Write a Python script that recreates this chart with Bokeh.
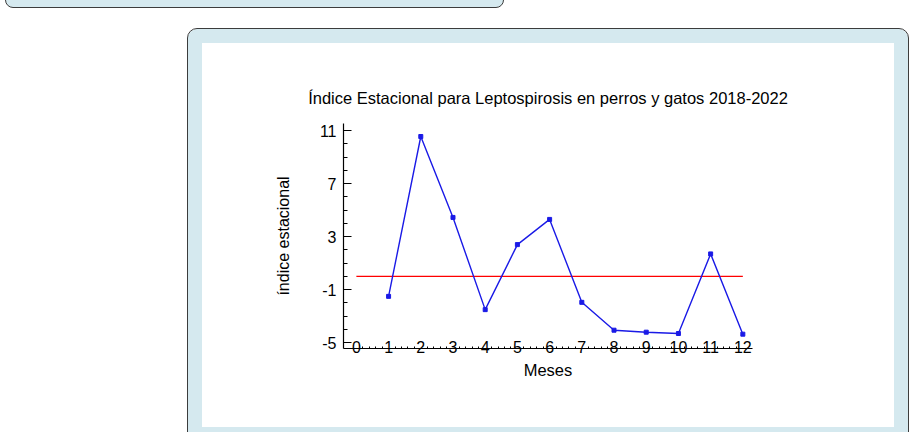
from bokeh.plotting import figure
from bokeh.models import Range1d, FixedTicker, LinearAxis, InlineStyleSheet, PrintfTickFormatter
from bokeh.embed import file_html
from bokeh.resources import INLINE

# ---- data ----
months = [1, 2, 3, 4, 5, 6, 7, 8, 9, 10, 11, 12]
index_values = [-1.5, 10.55, 4.45, -2.5, 2.4, 4.3, -1.95, -4.05, -4.2, -4.3, 1.7, -4.35]
baseline_x = [0, 12]
baseline_y = [0, 0]
x_ticks = [0, 1, 2, 3, 4, 5, 6, 7, 8, 9, 10, 11, 12]
y_ticks = [-5, -1, 3, 7, 11]
y_minor = [-5, -4, -3, -2, -1, 0, 1, 2, 3, 4, 5, 6, 7, 8, 9, 10, 11]
title_text = "Índice Estacional para Leptospirosis en perros y gatos 2018-2022"
x_label = "Meses"
y_label = "índice estacional"

FONT = "Liberation Sans"
LIGHT = "#d5e9ef"
EDGE = "#3c3c3c"

p = figure(width=916, height=432, output_backend="svg", toolbar_location=None,
           x_range=Range1d(-0.4, 12.3), y_range=Range1d(-5.43, 11.53),
           min_border_left=343, min_border_right=164, min_border_top=123,
           min_border_bottom=84, x_axis_type=None, y_axis_type=None)
p.outline_line_color = None
p.background_fill_color = None
p.border_fill_color = None
p.xgrid.visible = False
p.ygrid.visible = False

# decorative panels behind the chart (page background frames)
p.stylesheets = [InlineStyleSheet(css=f"""
:host {{ position: relative; z-index: 0; }}
:host::before {{
  content: ""; position: absolute; z-index: -1;
  left: 187px; top: 28px; width: 722px; height: 414px;
  box-sizing: border-box; border: 1.5px solid {EDGE}; border-radius: 10px;
  background: white; box-shadow: inset 0 0 0 14px {LIGHT};
}}
:host::after {{
  content: ""; position: absolute; z-index: -1;
  left: 5px; top: -30px; width: 499px; height: 38px;
  box-sizing: border-box; border: 1.5px solid {EDGE}; border-radius: 8px;
  background: {LIGHT};
}}
""")]

fmt = PrintfTickFormatter(format="%d")

# axes
xaxis = LinearAxis(ticker=FixedTicker(ticks=x_ticks,
                   minor_ticks=[i / 5 for i in range(0, 61) if i % 5]),
                   formatter=fmt)
xaxis.axis_label = x_label
xaxis.major_tick_in = 0
xaxis.major_tick_out = 0
xaxis.minor_tick_in = 2
xaxis.minor_tick_out = 0
xaxis.major_label_standoff = -8
xaxis.axis_label_standoff = 5
xaxis.major_label_text_font = FONT
xaxis.major_label_text_font_size = "16px"
xaxis.major_label_text_color = "black"
xaxis.axis_label_text_font = FONT
xaxis.axis_label_text_font_size = "16.5px"
xaxis.axis_label_text_font_style = "normal"
xaxis.axis_label_text_color = "black"
xaxis.axis_line_color = "black"
xaxis.axis_line_width = 1.2
xaxis.minor_tick_line_color = "black"
p.add_layout(xaxis, "below")

yaxis = LinearAxis(ticker=FixedTicker(ticks=y_ticks, minor_ticks=y_minor),
                   formatter=fmt)
yaxis.axis_label = y_label
yaxis.major_tick_in = 8
yaxis.major_tick_out = 0
yaxis.minor_tick_in = 4
yaxis.minor_tick_out = 0
yaxis.major_label_standoff = 7
yaxis.axis_label_standoff = 25
yaxis.major_label_text_font = FONT
yaxis.major_label_text_font_size = "16px"
yaxis.major_label_text_color = "black"
yaxis.axis_label_text_font = FONT
yaxis.axis_label_text_font_size = "16px"
yaxis.axis_label_text_font_style = "normal"
yaxis.axis_label_text_color = "black"
yaxis.axis_line_color = "black"
yaxis.axis_line_width = 1.2
yaxis.major_tick_line_width = 1.2
yaxis.minor_tick_line_color = "black"
p.add_layout(yaxis, "left")

# title
p.title.text = title_text
p.title.align = "center"
p.title.text_font = FONT
p.title.text_font_size = "16.5px"
p.title.text_font_style = "normal"
p.title.text_color = "black"
p.title.standoff = 34

# data
p.line(baseline_x, baseline_y, line_color="#ff0000", line_width=1.2)
p.line(months, index_values, line_color="#1a1ae6", line_width=1.4)
p.scatter(months, index_values, marker="square", size=4, fill_color="#1a1ae6",
          line_color="#1a1ae6")

open("out.html", "w").write(file_html(p, INLINE))
